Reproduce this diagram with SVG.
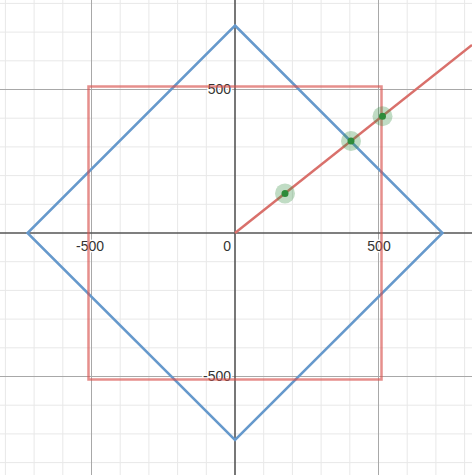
<svg xmlns="http://www.w3.org/2000/svg" width="472" height="475" viewBox="0 0 472 475">
<style>
.minor{stroke:#e8e8e8;stroke-width:1}
.major{stroke:#a8a8a8;stroke-width:1}
.axis{stroke:#555;stroke-width:1.6}
.lbl{font-family:"Liberation Sans",Arial,sans-serif;font-size:14px;fill:#333;stroke:#fff;stroke-width:3;paint-order:stroke;stroke-linejoin:round}
.halo{fill:#2e8b3a;fill-opacity:0.3}
.dot{fill:#2e8b3a}
</style>
<rect width="472" height="475" fill="#fff"/>
<g id="grid">
<g class="minor">
<line x1="5.4" y1="0" x2="5.4" y2="475"/><line x1="34.1" y1="0" x2="34.1" y2="475"/><line x1="62.8" y1="0" x2="62.8" y2="475"/><line x1="120.2" y1="0" x2="120.2" y2="475"/><line x1="148.9" y1="0" x2="148.9" y2="475"/><line x1="177.6" y1="0" x2="177.6" y2="475"/><line x1="206.3" y1="0" x2="206.3" y2="475"/><line x1="263.7" y1="0" x2="263.7" y2="475"/><line x1="292.4" y1="0" x2="292.4" y2="475"/><line x1="321.1" y1="0" x2="321.1" y2="475"/><line x1="349.8" y1="0" x2="349.8" y2="475"/><line x1="407.2" y1="0" x2="407.2" y2="475"/><line x1="435.9" y1="0" x2="435.9" y2="475"/><line x1="464.6" y1="0" x2="464.6" y2="475"/>
<line x1="0" y1="3.4" x2="472" y2="3.4"/><line x1="0" y1="32.1" x2="472" y2="32.1"/><line x1="0" y1="60.8" x2="472" y2="60.8"/><line x1="0" y1="118.2" x2="472" y2="118.2"/><line x1="0" y1="146.9" x2="472" y2="146.9"/><line x1="0" y1="175.6" x2="472" y2="175.6"/><line x1="0" y1="204.3" x2="472" y2="204.3"/><line x1="0" y1="261.7" x2="472" y2="261.7"/><line x1="0" y1="290.4" x2="472" y2="290.4"/><line x1="0" y1="319.1" x2="472" y2="319.1"/><line x1="0" y1="347.8" x2="472" y2="347.8"/><line x1="0" y1="405.2" x2="472" y2="405.2"/><line x1="0" y1="433.9" x2="472" y2="433.9"/><line x1="0" y1="462.6" x2="472" y2="462.6"/>
</g>
<g class="major">
<line x1="91.5" y1="0" x2="91.5" y2="475"/><line x1="378.5" y1="0" x2="378.5" y2="475"/>
<line x1="0" y1="89.5" x2="472" y2="89.5"/><line x1="0" y1="376.5" x2="472" y2="376.5"/>
</g>
<g class="axis">
<line x1="235" y1="0" x2="235" y2="475"/>
<line x1="0" y1="233" x2="472" y2="233"/>
</g>
</g>
<g id="labels">
<text class="lbl" x="231" y="94" text-anchor="end">500</text>
<text class="lbl" x="231" y="381" text-anchor="end">-500</text>
<text class="lbl" x="90" y="251" text-anchor="middle">-500</text>
<text class="lbl" x="379" y="251" text-anchor="middle">500</text>
<text class="lbl" x="231" y="251" text-anchor="end">0</text>
</g>
<g id="connectors">
<polygon id="diamond" points="235,25.5 442.5,233 235,440 27.5,233" fill="none" stroke="#6699cc" stroke-width="2.5"/>
<rect id="square" x="88.5" y="86.5" width="293" height="293" fill="none" stroke="#d9534f" stroke-opacity="0.65" stroke-width="2.5"/>
<line id="ray" x1="235" y1="233" x2="472" y2="45" stroke="#d9706b" stroke-width="2.5"/>
</g>
<g id="p1"><circle class="halo" cx="285" cy="193.4" r="10"/><circle class="dot" cx="285" cy="193.4" r="3.5"/></g>
<g id="p2"><circle class="halo" cx="351" cy="141" r="10"/><circle class="dot" cx="351" cy="141" r="3.5"/></g>
<g id="p3"><circle class="halo" cx="382.5" cy="116.3" r="10"/><circle class="dot" cx="382.5" cy="116.3" r="3.5"/></g>
</svg>
